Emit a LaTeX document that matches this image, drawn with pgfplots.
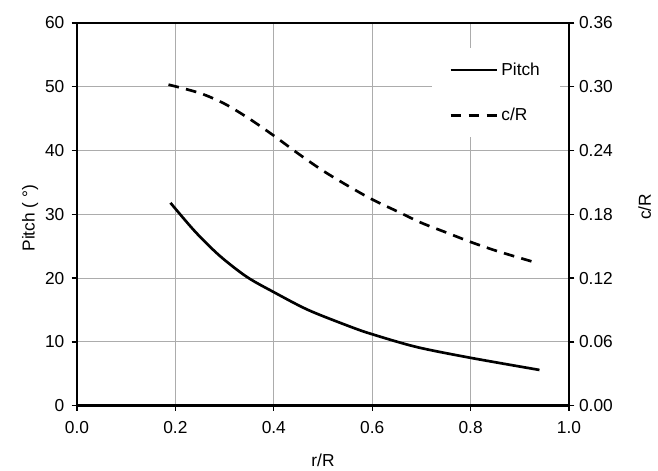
\documentclass[border=0pt]{standalone}
\usepackage{fontspec}
\setmainfont{Liberation Sans}
\usepackage{pgfplots}
\pgfplotsset{compat=1.18}
\begin{document}
\begin{tikzpicture}
\pgfplotsset{
  every axis/.append style={
    font=\fontsize{13}{15}\selectfont,
    scale only axis, width=369pt, height=287pt,
    xmin=0, xmax=1,
    /pgf/number format/assume math mode=true,
    tick style={black, line width=1pt},
    tick align=outside, major tick length=4pt,
  },
}
\begin{axis}[at={(0,0)}, anchor=south west, clip=false,
  ymin=0, ymax=60, ytick={0,10,20,30,40,50,60},
  xtick={0,0.2,0.4,0.6,0.8,1.0},
  xticklabel style={yshift=-4pt, /pgf/number format/.cd, fixed, fixed zerofill, precision=1},
  yticklabel style={xshift=-2pt},
  grid=major, grid style={line width=0.9pt, gray!65},
  axis line style={line width=2pt},
  ytick pos=left, xtick pos=bottom,
  xlabel={r/R}, ylabel={Pitch ( °)},
  every axis x label/.style={at={(axis description cs:0.5,-0.142)}, anchor=center},
  every axis y label/.style={at={(axis description cs:-0.095,0.49)}, rotate=90, anchor=center},
]
\addplot[smooth, line width=2pt, black] coordinates {
 (0.19,31.8) (0.24,27.3) (0.29,23.5) (0.345,20.2) (0.40,17.8) (0.47,15.0)
 (0.555,12.4) (0.60,11.2) (0.69,9.2) (0.80,7.5) (0.94,5.6)};
\draw[line width=2pt, black] (rel axis cs:0,0) rectangle (rel axis cs:1,1);
\end{axis}
\begin{axis}[at={(0,0)}, anchor=south west,
  axis x line=none, axis y line*=right,
  axis line style={-, line width=2pt},
  ymin=0, ymax=0.36, ytick={0,0.06,0.12,0.18,0.24,0.30,0.36},
  yticklabel style={/pgf/number format/.cd, fixed, fixed zerofill, precision=2},
  ylabel={c/R},
  every axis y label/.style={at={(axis description cs:1.154,0.52)}, rotate=90, anchor=center},
  legend style={at={(axis description cs:0.982,0.935)}, anchor=north east, draw=none, fill=white,
    inner xsep=13pt, inner ysep=9pt, row sep=19pt},
  legend cell align=left,
  legend image code/.code={\draw[#1] (0pt,0pt) -- (35pt,0pt);},
]
\addlegendimage{line width=2pt, black}
\addlegendentry{Pitch}
\addplot[smooth, line width=2pt, black, dash pattern=on 8pt off 5.5pt] coordinates {
 (0.186,0.302) (0.25,0.294) (0.30,0.284) (0.35,0.270) (0.40,0.254) (0.45,0.237)
 (0.50,0.221) (0.55,0.207) (0.60,0.194) (0.65,0.183) (0.70,0.172) (0.75,0.163)
 (0.80,0.154) (0.85,0.146) (0.90,0.139) (0.937,0.134)};
\addlegendentry{c/R}
\end{axis}
\pgfresetboundingbox
\useasboundingbox (-57.75pt,-48.75pt) rectangle (435.75pt,304.25pt);
\end{tikzpicture}
\end{document}
